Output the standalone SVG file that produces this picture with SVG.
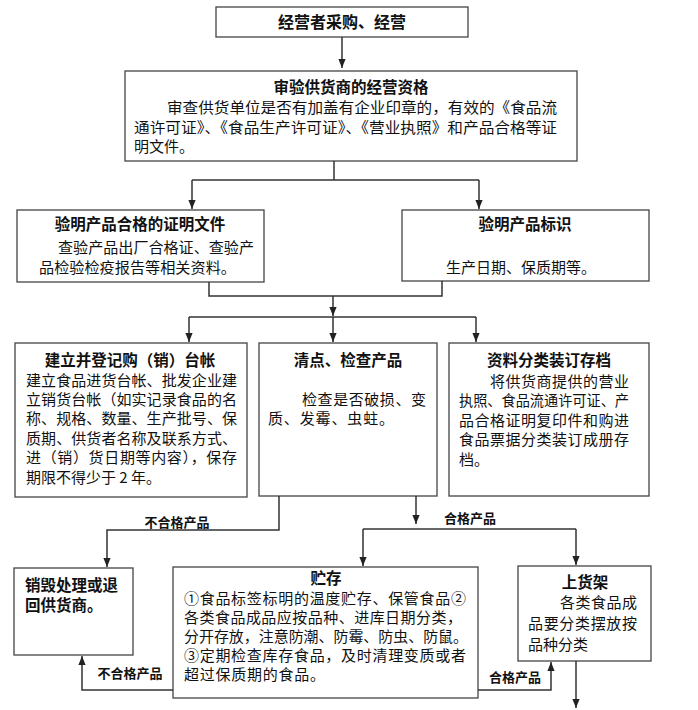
<svg xmlns="http://www.w3.org/2000/svg" width="698" height="710" viewBox="0 0 698 710">
<style>
text{font-family:"Noto Sans CJK SC","Liberation Sans",sans-serif;fill:#111}
.t{font-size:15.5px;font-weight:bold}
.b{font-size:15px}
.l{font-size:13px;font-weight:bold}
.box{fill:#fff;stroke:#444;stroke-width:1.3}
.c{fill:none;stroke:#333;stroke-width:1.5}
</style>
<defs>
<marker id="ah" viewBox="0 0 10 10" refX="10" refY="5" markerWidth="9" markerHeight="9" markerUnits="userSpaceOnUse" orient="auto">
<path d="M0,1 L10,5 L0,9 z" fill="#222"/>
</marker>
</defs>
<rect width="698" height="710" fill="#fff"/>

<g id="n1">
<rect class="box" x="216" y="7" width="252" height="30"/>
<text class="t" x="342" y="28" text-anchor="middle" style="font-size:16px">经营者采购、经营</text>
</g>

<g id="n2">
<rect class="box" x="125" y="71" width="452" height="90"/>
<text class="t" x="351" y="93" text-anchor="middle">审验供货商的经营资格</text>
<text class="b" x="167" y="112.7" textLength="390" lengthAdjust="spacingAndGlyphs">审查供货单位是否有加盖有企业印章的，有效的《食品流</text>
<text class="b" x="134" y="132.5" textLength="423" lengthAdjust="spacingAndGlyphs">通许可证》、《食品生产许可证》、《营业执照》和产品合格等证</text>
<text class="b" x="134" y="152">明文件。</text>
</g>

<g id="n3a">
<rect class="box" x="17" y="210" width="247" height="72"/>
<text class="t" x="140" y="230" text-anchor="middle">验明产品合格的证明文件</text>
<text class="b" x="58" y="253" textLength="196" lengthAdjust="spacingAndGlyphs">查验产品出厂合格证、查验产</text>
<text class="b" x="39" y="273" textLength="197" lengthAdjust="spacingAndGlyphs">品检验检疫报告等相关资料。</text>
</g>

<g id="n3b">
<rect class="box" x="402" y="210" width="247" height="71"/>
<text class="t" x="525" y="230" text-anchor="middle">验明产品标识</text>
<text class="b" x="521" y="273" text-anchor="middle">生产日期、保质期等。</text>
</g>

<g id="n4a">
<rect class="box" x="15" y="343" width="232" height="154"/>
<text class="t" x="130" y="366" text-anchor="middle">建立并登记购（销）台帐</text>
<text class="b" x="26" y="385.7" textLength="211">建立食品进货台帐、批发企业建</text>
<text class="b" x="26" y="405" textLength="211">立销货台帐（如实记录食品的名</text>
<text class="b" x="26" y="424.4" textLength="211">称、规格、数量、生产批号、保</text>
<text class="b" x="26" y="443.8" textLength="211">质期、供货者名称及联系方式、</text>
<text class="b" x="26" y="463.2" textLength="211">进（销）货日期等内容），保存</text>
<text class="b" x="26" y="482.6">期限不得少于 2 年。</text>
</g>

<g id="n4b">
<rect class="box" x="259" y="343" width="178" height="153"/>
<text class="t" x="348" y="366" text-anchor="middle">清点、检查产品</text>
<text class="b" x="302" y="405" textLength="124">检查是否破损、变</text>
<text class="b" x="268" y="424.4" textLength="126">质、发霉、虫蛀。</text>
</g>

<g id="n4c">
<rect class="box" x="449" y="343" width="200" height="153"/>
<text class="t" x="549" y="366" text-anchor="middle">资料分类装订存档</text>
<text class="b" x="490" y="386.5" textLength="139">将供货商提供的营业</text>
<text class="b" x="459" y="406" textLength="170" lengthAdjust="spacingAndGlyphs">执照、食品流通许可证、产</text>
<text class="b" x="459" y="425.5" textLength="170">品合格证明复印件和购进</text>
<text class="b" x="459" y="445" textLength="170">食品票据分类装订成册存</text>
<text class="b" x="459" y="464.5">档。</text>
</g>

<g id="n5a">
<rect class="box" x="14" y="568" width="119" height="87"/>
<text class="t" x="25" y="591">销毁处理或退</text>
<text class="t" x="25" y="611">回供货商。</text>
</g>

<g id="n5b">
<rect class="box" x="173" y="567" width="305" height="131"/>
<text class="t" x="326" y="584" text-anchor="middle">贮存</text>
<text class="b" x="184" y="603.5" textLength="282">①食品标签标明的温度贮存、保管食品②</text>
<text class="b" x="184" y="622.5" textLength="278">各类食品成品应按品种、进库日期分类，</text>
<text class="b" x="184" y="641.5" textLength="284" lengthAdjust="spacingAndGlyphs">分开存放，注意防潮、防霉、防虫、防鼠。</text>
<text class="b" x="184" y="660.5" textLength="282">③定期检查库存食品，及时清理变质或者</text>
<text class="b" x="184" y="679.5" textLength="141">超过保质期的食品。</text>
</g>

<g id="n5c">
<rect class="box" x="518" y="566" width="133" height="95"/>
<text class="t" x="585" y="588" text-anchor="middle">上货架</text>
<text class="b" x="560" y="608" textLength="77">各类食品成</text>
<text class="b" x="528" y="629" textLength="109">品要分类摆放按</text>
<text class="b" x="528" y="650">品种分类</text>
</g>

<g id="connectors">
<path class="c" d="M342,37 V68" marker-end="url(#ah)"/>
<path class="c" d="M334,161 V180"/>
<path class="c" d="M192,180 H479"/>
<path class="c" d="M192,180 V209" marker-end="url(#ah)"/>
<path class="c" d="M479,180 V209" marker-end="url(#ah)"/>
<path class="c" d="M209,282 V296 H442 V281"/>
<path class="c" d="M333,296 V316" marker-end="url(#ah)"/>
<path class="c" d="M189,317 H476"/>
<path class="c" d="M189,317 V342" marker-end="url(#ah)"/>
<path class="c" d="M333,317 V342" marker-end="url(#ah)"/>
<path class="c" d="M476,317 V342" marker-end="url(#ah)"/>
<path class="c" d="M279,496 V530 H107 V567" marker-end="url(#ah)"/>
<text class="l" x="177" y="527" text-anchor="middle">不合格产品</text>
<path class="c" d="M416,496 V524" marker-end="url(#ah)"/>
<path class="c" d="M363,529 H576"/>
<path class="c" d="M363,529 V566" marker-end="url(#ah)"/>
<path class="c" d="M576,529 V565" marker-end="url(#ah)"/>
<text class="l" x="470" y="523" text-anchor="middle">合格产品</text>
<path class="c" d="M173,690 H82 V656" marker-end="url(#ah)"/>
<text class="l" x="130" y="678" text-anchor="middle">不合格产品</text>
<path class="c" d="M478,690 H551 V662" marker-end="url(#ah)"/>
<text class="l" x="515" y="682" text-anchor="middle">合格产品</text>
<path class="c" d="M576,661 V708" marker-end="url(#ah)"/>
</g>
</svg>
